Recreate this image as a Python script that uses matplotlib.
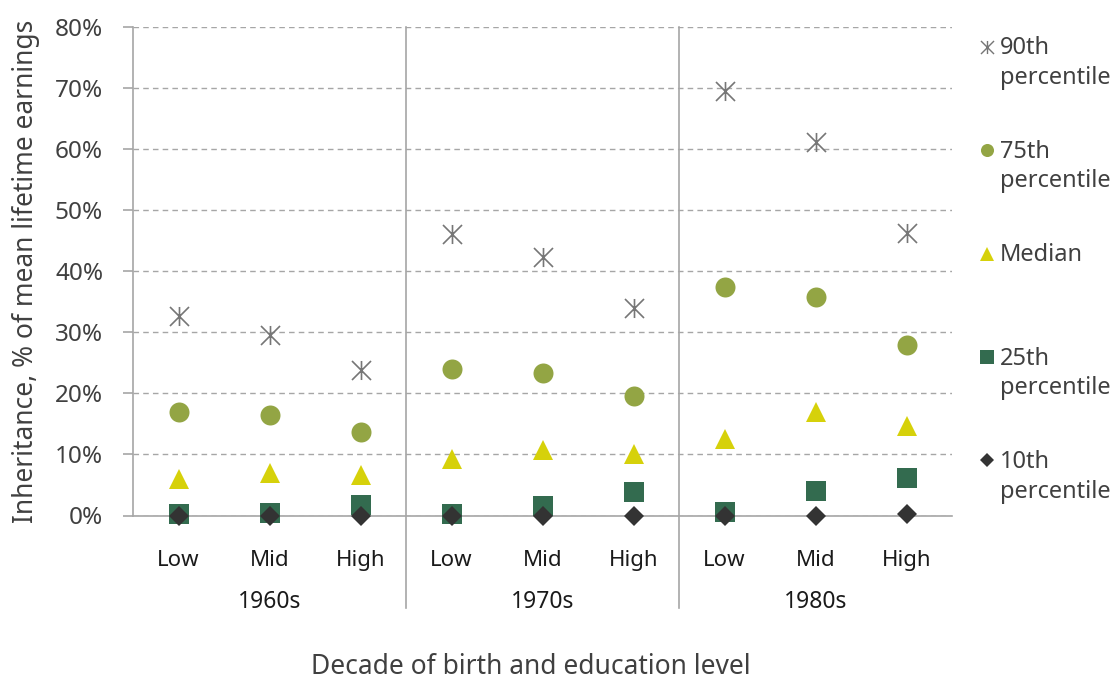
import matplotlib
matplotlib.use("Agg")
import matplotlib.pyplot as plt
from matplotlib.lines import Line2D
from matplotlib.path import Path

# --- data ---
decades = ["1960s", "1970s", "1980s"]
levels = ["Low", "Mid", "High"]

p90 = [32.7, 29.6, 23.9, 46.1, 42.4, 34.0, 69.6, 61.1, 46.3]
p75 = [16.9, 16.5, 13.6, 24.0, 23.3, 19.6, 37.4, 35.8, 27.9]
median = [6.0, 7.0, 6.6, 9.2, 10.8, 10.0, 12.5, 16.9, 14.6]
p25 = [0.2, 0.35, 1.8, 0.3, 1.5, 3.9, 0.5, 4.0, 6.1]
p10 = [0.0, 0.0, 0.0, 0.0, 0.0, 0.0, 0.0, 0.0, 0.3]

series_labels = ["90th\npercentile", "75th\npercentile", "Median",
                 "25th\npercentile", "10th\npercentile"]

# asterisk-like marker: an X with a vertical bar
star = Path([(-1, -1), (1, 1), (-1, 1), (1, -1), (0, -1), (0, 1)],
            [Path.MOVETO, Path.LINETO, Path.MOVETO, Path.LINETO, Path.MOVETO, Path.LINETO])

styles = [
    dict(marker=star, ms=13.7, mfc="none", mec="#767676", mew=1.2),
    dict(marker="o", ms=14.4, mfc="#93a544", mec="none", mew=0),
    dict(marker="^", ms=13.7, mfc="#d6d10a", mec="none", mew=0),
    dict(marker="s", ms=13.7, mfc="#336b4f", mec="none", mew=0),
    dict(marker="D", ms=9.7, mfc="#333333", mec="none", mew=0),
]
legend_ms = [9.4, 9.4, 10.0, 10.0, 7.1]

plt.rcParams["font.family"] = ["Noto Sans", "DejaVu Sans"]

W, H = 1116, 681
fig = plt.figure(figsize=(W / 100, H / 100), dpi=100)
ax = fig.add_axes([133 / W, 1 - 515.5 / H, 819 / W, 488.5 / H])

x = list(range(len(decades) * len(levels)))
for vals, st in zip([p90, p75, median, p25, p10], styles):
    ax.plot(x, vals, linestyle="none", clip_on=False, zorder=3, **st)

ax.set_xlim(-0.5, len(x) - 0.5)
ax.set_ylim(0, 80)
ax.set_yticks(range(0, 81, 10))
ax.set_yticklabels([f"{v}%" for v in range(0, 81, 10)])
ax.yaxis.grid(True, linestyle=(0, (4, 3)), color="#a6a6a6", linewidth=1)
ax.set_axisbelow(True)

for s in ["top", "right"]:
    ax.spines[s].set_visible(False)
ax.spines["left"].set_color("#a6a6a6")
ax.spines["left"].set_linewidth(1.2)
ax.spines["bottom"].set_color("#a6a6a6")
ax.spines["bottom"].set_linewidth(1.2)

ax.tick_params(axis="y", direction="out", length=7.5, width=1.2, color="#a6a6a6",
               labelsize=17.5, labelcolor="#404040", pad=14)

# education level tick labels
ax.set_xticks(x)
ax.set_xticklabels(levels * len(decades))
ax.tick_params(axis="x", length=0, labelsize=16, labelcolor="#1a1a1a", pad=24.5)

# decade group labels and separators
for i, d in enumerate(decades):
    ax.text(i * 3 + 1, -0.177, d, transform=ax.get_xaxis_transform(),
            ha="center", va="center", fontsize=16.5, color="#1a1a1a")
for i in range(1, len(decades)):
    ax.plot([i * 3 - 0.5] * 2, [1, -0.19], transform=ax.get_xaxis_transform(),
            color="#a6a6a6", lw=1.2, clip_on=False)

ax.set_ylabel("Inheritance, % of mean lifetime earnings", fontsize=19, color="#404040")
ax.yaxis.set_label_coords(-0.113, 0.5)
ax.set_xlabel("Decade of birth and education level", fontsize=19, color="#404040",
              va="baseline")
ax.xaxis.set_label_coords(0.486, -(674 - 515.5) / 488.5)

# legend drawn by hand so the marker lines up with the first text line
for k, (lab, st) in enumerate(zip(series_labels, styles)):
    base = 54.5 + k * 103.4
    lg = dict(st)
    lg["ms"] = legend_ms[k]
    if k == 0:
        lg["mew"] = 1.0
    fig.add_artist(Line2D([986.7 / W], [1 - (base - 7.7) / H], transform=fig.transFigure,
                          linestyle="none", **lg))
    for j, line in enumerate(lab.split("\n")):
        fig.text(1000 / W, 1 - (base + j * 29.5) / H, line, fontsize=17,
                 color="#404040", ha="left", va="baseline")

fig.savefig("out.png", dpi=100)
